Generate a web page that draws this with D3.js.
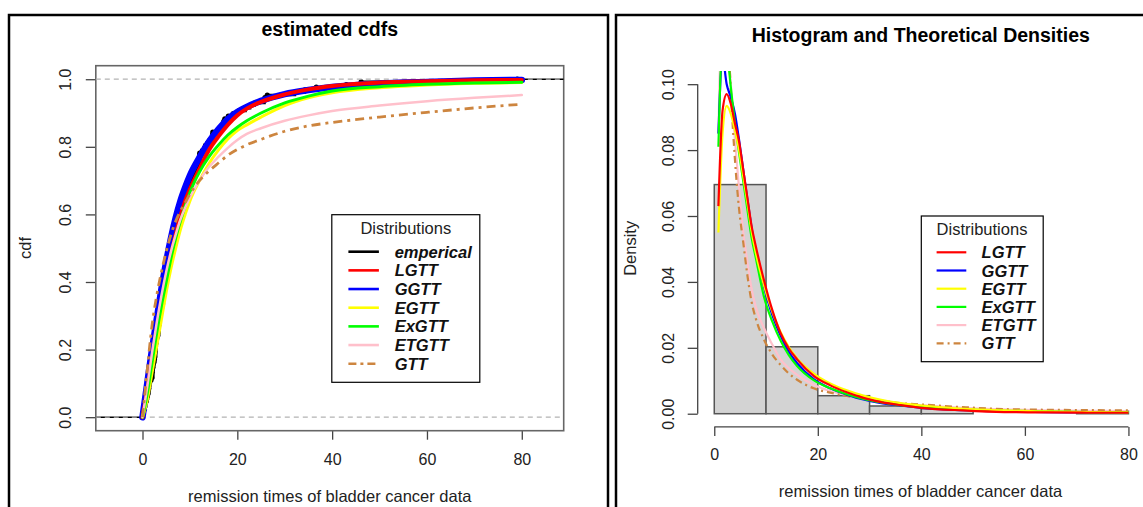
<!DOCTYPE html>
<html><head><meta charset="utf-8">
<script src="https://cdn.jsdelivr.net/npm/d3@7"></script>
<style>body{margin:0;background:#fff;} svg{display:block;font-family:"Liberation Sans",Arial,sans-serif;}</style>
</head><body><svg id="c" width="1143" height="507"></svg>
<script>
// remission times of bladder cancer data (n = 128)
const remission = [0.08,2.09,3.48,4.87,6.94,8.66,13.11,23.63,0.20,2.23,3.52,4.98,6.97,9.02,13.29,
0.40,2.26,3.57,5.06,7.09,9.22,13.80,25.74,0.50,2.46,3.64,5.09,7.26,9.47,14.24,25.82,
0.51,2.54,3.70,5.17,7.28,9.74,14.76,26.31,0.81,2.62,3.82,5.32,7.32,10.06,14.77,32.15,
2.64,3.88,5.32,7.39,10.34,14.83,34.26,0.90,2.69,4.18,5.34,7.59,10.66,15.96,36.66,
1.05,2.69,4.23,5.41,7.62,10.75,16.62,43.01,1.19,2.75,4.26,5.41,7.63,17.12,46.12,
1.26,2.83,4.33,5.49,7.66,11.25,17.14,79.05,1.35,2.87,5.62,7.87,11.64,17.36,
1.40,3.02,4.34,5.71,7.93,11.79,18.10,1.46,4.40,5.85,8.26,11.98,19.13,
1.76,3.25,4.50,6.25,8.37,12.02,2.02,3.31,4.51,6.54,8.53,12.03,20.28,
2.02,3.36,6.76,12.07,21.73,2.07,3.36,6.93,8.65,12.63,22.69];

// estimated cdfs
const cdfX     = [0,1,2,3,4,5,6,7,8,9,10,12,14,16,18,20,22,25,30,35,40,50,60,70,80];
const cdfLGTT  = [0,0.08,0.17,0.25,0.33,0.41,0.48,0.54,0.595,0.64,0.675,0.735,0.79,0.83,0.865,0.893,0.913,0.933,0.955,0.97,0.98,0.99,0.994,0.997,0.998];
const cdfGGTT  = [0,0.10,0.20,0.29,0.38,0.46,0.53,0.59,0.64,0.68,0.715,0.768,0.815,0.852,0.882,0.903,0.918,0.936,0.956,0.968,0.977,0.987,0.992,0.996,0.998];
const cdfEGTT  = [0,0.05,0.13,0.21,0.29,0.37,0.44,0.50,0.555,0.60,0.64,0.70,0.75,0.79,0.823,0.848,0.865,0.888,0.922,0.945,0.96,0.975,0.983,0.988,0.99];
const cdfExGTT = [0,0.07,0.16,0.25,0.33,0.40,0.47,0.53,0.58,0.625,0.665,0.725,0.77,0.805,0.835,0.858,0.877,0.90,0.93,0.95,0.965,0.978,0.985,0.989,0.991];
const cdfETGTT = [0,0.09,0.19,0.28,0.36,0.43,0.49,0.54,0.585,0.62,0.65,0.70,0.74,0.77,0.797,0.82,0.838,0.855,0.877,0.893,0.906,0.922,0.935,0.945,0.953];
const cdfGTT   = [0,0.14,0.27,0.36,0.43,0.49,0.54,0.58,0.61,0.635,0.66,0.70,0.728,0.752,0.775,0.792,0.806,0.822,0.846,0.862,0.872,0.888,0.902,0.915,0.926];

// theoretical densities
const densX     = [0.8,1.6,2.4,3.2,4,4.8,5.6,6.4,7.2,8,9.6,11.2,12.8,14.4,16,19.2,22.4,25.6,28.8,32,36,40,48,56,64,72,80];
const densLGTT  = [0.063,0.092,0.097,0.094,0.088,0.0825,0.074,0.0655,0.057,0.051,0.0405,0.0315,0.0245,0.0198,0.0165,0.0115,0.0086,0.0065,0.0048,0.0036,0.0026,0.0018,0.001,0.0005,0.0004,0.0003,0.0003];
const densGGTT  = [0.085,0.108,0.100,0.096,0.091,0.083,0.074,0.065,0.0565,0.049,0.0385,0.030,0.0237,0.0188,0.0153,0.0105,0.0077,0.0058,0.0043,0.0033,0.0025,0.0018,0.0011,0.0007,0.0005,0.0004,0.0003];
const densEGTT  = [0.055,0.085,0.0934,0.091,0.086,0.080,0.072,0.064,0.0555,0.049,0.039,0.031,0.0248,0.0202,0.0168,0.0122,0.0092,0.0071,0.0055,0.0043,0.0032,0.0025,0.0015,0.001,0.0007,0.0005,0.0004];
const densExGTT = [0.081,0.112,0.110,0.099,0.088,0.079,0.0705,0.062,0.0535,0.0475,0.0355,0.028,0.0222,0.0178,0.0145,0.0102,0.0077,0.0059,0.0045,0.0035,0.0026,0.002,0.0013,0.0009,0.0007,0.0005,0.0004];
const densETGTT = [0.085,0.125,0.115,0.1,0.083,0.068,0.055,0.046,0.038,0.0325,0.026,0.021,0.0165,0.0138,0.0118,0.0088,0.0069,0.0056,0.0046,0.0038,0.0031,0.0026,0.0018,0.0013,0.001,0.0009,0.0008];
const densGTT   = [0.3,0.2,0.13,0.098,0.077,0.062,0.052,0.042,0.034,0.029,0.0225,0.018,0.0148,0.0122,0.0103,0.0077,0.0064,0.0054,0.0046,0.004,0.0032,0.0028,0.002,0.0014,0.0012,0.0011,0.001];

const xTicks = [0,20,40,60,80];
const cdfTicks = [0,0.2,0.4,0.6,0.8,1.0];
const densTicks = [0,0.02,0.04,0.06,0.08,0.10];
const binEdges = [0,10,20,30,40,50,60,70,80];
const cdfLegend = ["emperical","LGTT","GGTT","EGTT","ExGTT","ETGTT","GTT"];
const densLegend = ["LGTT","GGTT","EGTT","ExGTT","ETGTT","GTT"];

const COL = {emperical:"#000000",LGTT:"#FF0000",GGTT:"#0000FF",EGTT:"#FFFF00",ExGTT:"#00FF00",ETGTT:"#FFC0CB",GTT:"#CD853F"};
const AX = "#444";
const svg = d3.select("#c");

// panel frames
svg.append("rect").attr("x",9).attr("y",15).attr("width",599).attr("height",520).attr("fill","none").attr("stroke","#000").attr("stroke-width",2.5);
svg.append("rect").attr("x",616).attr("y",15).attr("width",600).attr("height",520).attr("fill","none").attr("stroke","#000").attr("stroke-width",2.5);

const defs = svg.append("defs");

// ================= LEFT: estimated cdfs =================
const L = {l:95.8, r:563.7, t:65.7, b:430.7};
const xL = d3.scaleLinear().domain([-9.85, 88.84]).range([L.l, L.r]);
const yL = d3.scaleLinear().domain([-0.04, 1.04]).range([L.b, L.t]);
defs.append("clipPath").attr("id","clipL").append("rect").attr("x",L.l).attr("y",L.t).attr("width",L.r-L.l).attr("height",L.b-L.t);

svg.append("text").attr("x",(L.l+L.r)/2).attr("y",36).attr("text-anchor","middle")
  .attr("font-size","19.5px").attr("font-weight","bold").text("estimated cdfs");

const gL = svg.append("g");
const ayL = gL.append("g").attr("transform",`translate(${L.l},0)`)
  .call(d3.axisLeft(yL).tickValues(cdfTicks).tickFormat(d3.format(".1f")).tickSize(10).tickSizeOuter(0));
ayL.select(".domain").remove();
ayL.selectAll("line").attr("stroke",AX).attr("stroke-width",1.3);
ayL.selectAll("text").attr("transform","rotate(-90)").attr("x",0).attr("y",-30.5).attr("dy","0.35em")
  .attr("text-anchor","middle").attr("font-size","16px").attr("fill","#222").attr("font-family",null);

const axL = gL.append("g").attr("transform",`translate(0,${L.b})`)
  .call(d3.axisBottom(xL).tickValues(xTicks).tickSize(9).tickPadding(14).tickSizeOuter(0));
axL.select(".domain").remove();
axL.selectAll("line").attr("stroke",AX).attr("stroke-width",1.3);
axL.selectAll("text").attr("font-size","16px").attr("fill","#222").attr("font-family",null);

gL.append("rect").attr("x",L.l).attr("y",L.t).attr("width",L.r-L.l).attr("height",L.b-L.t)
  .attr("fill","none").attr("stroke","#666").attr("stroke-width",1.6);

svg.append("text").attr("x",(L.l+L.r)/2).attr("y",501.5).attr("text-anchor","middle")
  .attr("font-size","16.5px").attr("fill","#222").text("remission times of bladder cancer data");
svg.append("text").attr("transform","translate(25.7,248) rotate(-90)").attr("dy","0.35em").attr("text-anchor","middle")
  .attr("font-size","16.5px").attr("fill","#222").text("cdf");

const plotL = svg.append("g").attr("clip-path","url(#clipL)");
// empirical cdf
const sorted = d3.sort(remission);
const n = sorted.length;
const ecdfPts = sorted.map((v,i)=>[v,(i+1)/n]);
// tails to the plot edges
plotL.append("line").attr("x1",L.l).attr("x2",xL(sorted[0])).attr("y1",yL(0)).attr("y2",yL(0))
  .attr("stroke","#000").attr("stroke-width",1.6);
plotL.append("line").attr("x1",xL(sorted[n-1])).attr("x2",L.r).attr("y1",yL(1)).attr("y2",yL(1))
  .attr("stroke","#000").attr("stroke-width",1.6);
plotL.append("path").datum(ecdfPts)
  .attr("d",d3.line().x(d=>xL(d[0])).y(d=>yL(d[1])).curve(d3.curveStepAfter))
  .attr("fill","none").attr("stroke","#000").attr("stroke-width",2.5);
plotL.selectAll("circle.e").data(sorted).join("circle").attr("class","e")
  .attr("cx",(d)=>xL(d)).attr("cy",(d,i)=>yL((i+1)/n)).attr("r",2.6).attr("fill","#000");
// reference lines at 0 and 1
plotL.selectAll("line.ref").data([0,1]).join("line").attr("class","ref")
  .attr("x1",L.l).attr("x2",L.r).attr("y1",d=>yL(d)).attr("y2",d=>yL(d))
  .attr("stroke","#b3b3b3").attr("stroke-width",1.2).attr("stroke-dasharray","5,4");

const cdfSeries = [
  {name:"GGTT", v:cdfGGTT, w:6.5},
  {name:"LGTT", v:cdfLGTT, w:4},
  {name:"EGTT", v:cdfEGTT, w:3},
  {name:"ExGTT", v:cdfExGTT, w:3},
  {name:"ETGTT", v:cdfETGTT, w:2.5},
  {name:"GTT", v:cdfGTT, w:2.8, dash:"9,5,3,5"}
];
const lineL = d3.line().x(d=>xL(d[0])).y(d=>yL(d[1])).curve(d3.curveMonotoneX);
cdfSeries.forEach(s=>{
  plotL.append("path").datum(cdfX.map((x,i)=>[x,s.v[i]]))
    .attr("d",lineL).attr("fill","none").attr("stroke",COL[s.name]).attr("stroke-width",s.w)
    .attr("stroke-linecap",s.dash?"butt":"round").attr("stroke-linejoin","round")
    .attr("stroke-dasharray",s.dash||null);
});

// left legend
const lgL = svg.append("g");
lgL.append("rect").attr("x",331.8).attr("y",214.7).attr("width",148).attr("height",167.6)
  .attr("fill","#fff").attr("stroke","#000").attr("stroke-width",1.2);
lgL.append("text").attr("x",405.8).attr("y",234).attr("text-anchor","middle").attr("font-size","16.5px").attr("fill","#222").text("Distributions");
cdfLegend.forEach((name,i)=>{
  const y = 251.7 + i*18.67;
  lgL.append("line").attr("x1",348.4).attr("x2",378.9).attr("y1",y).attr("y2",y)
    .attr("stroke",COL[name]).attr("stroke-width",2.6).attr("stroke-dasharray",name==="GTT"?"8,4,3,4":null);
  lgL.append("text").attr("x",394.7).attr("y",y+6).attr("font-size","16.5px").attr("font-weight","bold")
    .attr("font-style","italic").attr("fill","#111").text(name);
});

// ================= RIGHT: histogram & densities =================
const R = {l:697.7, r:1145, t:71, b:426.9};
const xR = d3.scaleLinear().domain([-3.2, 83.2]).range([R.l, R.r]);
const yR = d3.scaleLinear().domain([-0.004, 0.104]).range([R.b, R.t]);
defs.append("clipPath").attr("id","clipR").append("rect").attr("x",R.l).attr("y",R.t).attr("width",R.r-R.l).attr("height",R.b-R.t);

svg.append("text").attr("x",920.8).attr("y",42).attr("text-anchor","middle")
  .attr("font-size","19.5px").attr("font-weight","bold").text("Histogram and Theoretical Densities");

const bins = d3.bin().domain([0,80]).thresholds(binEdges)(remission);
svg.append("g").selectAll("rect").data(bins).join("rect")
  .attr("x",d=>xR(d.x0)).attr("width",d=>xR(d.x1)-xR(d.x0))
  .attr("y",d=>yR(d.length/(n*(d.x1-d.x0)))).attr("height",d=>yR(0)-yR(d.length/(n*(d.x1-d.x0))))
  .attr("fill","#d3d3d3").attr("stroke","#555").attr("stroke-width",1.5);

const ayR = svg.append("g").attr("transform",`translate(${R.l},0)`)
  .call(d3.axisLeft(yR).tickValues(densTicks).tickFormat(d3.format(".2f")).tickSize(10).tickSizeOuter(0));
ayR.select(".domain").remove();
ayR.append("line").attr("x1",0).attr("x2",0).attr("y1",yR(densTicks[0])).attr("y2",yR(densTicks[densTicks.length-1]))
  .attr("stroke",AX).attr("stroke-width",1.3);
ayR.selectAll(".tick line").attr("stroke",AX).attr("stroke-width",1.3);
ayR.selectAll("text").attr("transform","rotate(-90)").attr("x",0).attr("y",-29).attr("dy","0.35em")
  .attr("text-anchor","middle").attr("font-size","16px").attr("fill","#222").attr("font-family",null);

const axR = svg.append("g").attr("transform",`translate(0,${R.b})`)
  .call(d3.axisBottom(xR).tickValues(xTicks).tickSize(9).tickPadding(12.5).tickSizeOuter(0));
axR.select(".domain").remove();
axR.append("line").attr("x1",xR(xTicks[0])).attr("x2",xR(xTicks[xTicks.length-1])).attr("y1",0).attr("y2",0)
  .attr("stroke",AX).attr("stroke-width",1.3);
axR.selectAll(".tick line").attr("stroke",AX).attr("stroke-width",1.3);
axR.selectAll("text").attr("font-size","16px").attr("fill","#222").attr("font-family",null);

svg.append("text").attr("x",920.5).attr("y",496.5).attr("text-anchor","middle")
  .attr("font-size","16.5px").attr("fill","#222").text("remission times of bladder cancer data");
svg.append("text").attr("transform","translate(630,248.3) rotate(-90)").attr("dy","0.35em").attr("text-anchor","middle")
  .attr("font-size","16.5px").attr("fill","#222").text("Density");

const plotR = svg.append("g").attr("clip-path","url(#clipR)");
const densSeries = [
  {name:"ETGTT", v:densETGTT},
  {name:"GTT", v:densGTT, dash:"7,4,2,4"},
  {name:"GGTT", v:densGGTT},
  {name:"ExGTT", v:densExGTT},
  {name:"EGTT", v:densEGTT},
  {name:"LGTT", v:densLGTT}
];
const lineR = d3.line().x(d=>xR(d[0])).y(d=>yR(d[1])).curve(d3.curveMonotoneX);
densSeries.forEach(s=>{
  plotR.append("path").datum(densX.map((x,i)=>[x,s.v[i]]))
    .attr("d",lineR).attr("fill","none").attr("stroke",COL[s.name]).attr("stroke-width",2.2)
    .attr("stroke-linejoin","round").attr("stroke-dasharray",s.dash||null);
});

// right legend
const lgR = svg.append("g");
lgR.append("rect").attr("x",921.3).attr("y",216).attr("width",121.9).attr("height",145.7)
  .attr("fill","#fff").attr("stroke","#000").attr("stroke-width",1.2);
lgR.append("text").attr("x",982).attr("y",235.3).attr("text-anchor","middle").attr("font-size","16.5px").attr("fill","#222").text("Distributions");
densLegend.forEach((name,i)=>{
  const y = 252.3 + i*18.2;
  lgR.append("line").attr("x1",936.6).attr("x2",966.3).attr("y1",y).attr("y2",y)
    .attr("stroke",COL[name]).attr("stroke-width",2.2).attr("stroke-dasharray",name==="GTT"?"7,4,2,4":null);
  lgR.append("text").attr("x",981.6).attr("y",y+6).attr("font-size","16.5px").attr("font-weight","bold")
    .attr("font-style","italic").attr("fill","#111").text(name);
});
</script></body></html>
